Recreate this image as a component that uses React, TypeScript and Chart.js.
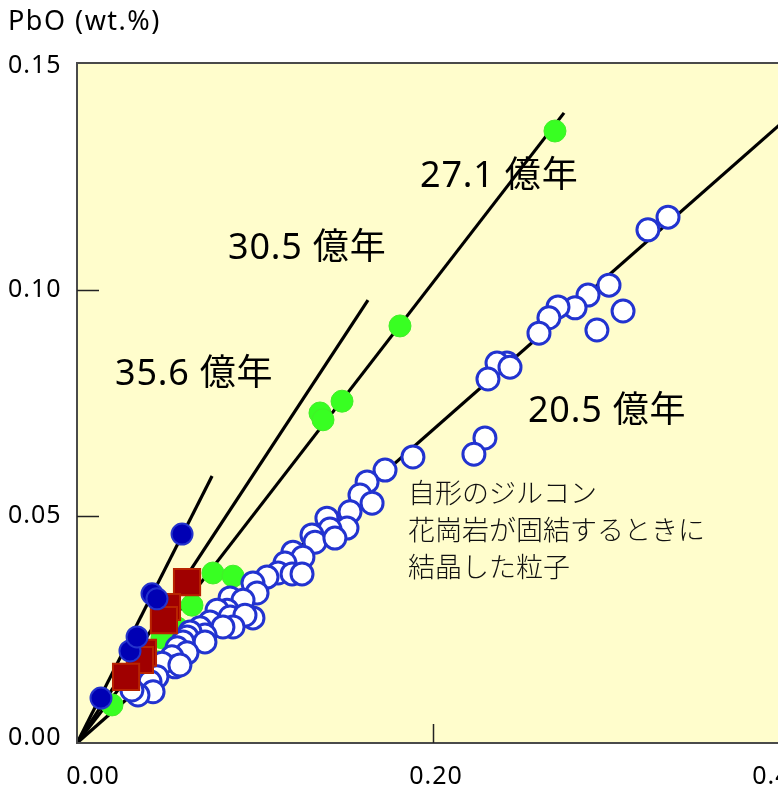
import React, { useEffect, useRef } from "react";
import { Chart, registerables } from "chart.js";

Chart.register(...registerables);

// ---- axis ticks ----
const xTicks = [0, 0.2, 0.4];
const yTicks = [0, 0.05, 0.1, 0.15];
const yAxisTitle = "PbO (wt.%)";

// ---- isochron lines (from origin to end point) ----
const isochronAges = ["35.6 億年", "30.5 億年", "27.1 億年", "20.5 億年"];
const isochronEndX = [0.076, 0.1637, 0.274, 0.4];
const isochronEndY = [0.0589, 0.0977, 0.139, 0.138];
// label anchor (left, vertical middle) in data units
const isochronLabelX = [0.0214, 0.085, 0.193, 0.2537];
const isochronLabelY = [0.0812, 0.109, 0.1249, 0.073];

// ---- annotation ----
const noteLines = ["自形のジルコン", "花崗岩が固結するときに", "結晶した粒子"];
const noteX = 0.1862;
const noteY = [0.0551, 0.047, 0.0388];

// ---- data series [x, PbO y] ----
const blueFilled: number[][] = [
  [0.0135, 0.0099], [0.0298, 0.0203], [0.0338, 0.0234], [0.0422, 0.0329],
  [0.045, 0.0318], [0.0591, 0.0461],
];

const redSquares: number[][] = [
  [0.0619, 0.0355], [0.0506, 0.03], [0.0489, 0.0271], [0.0371, 0.0199],
  [0.0354, 0.0183], [0.0276, 0.0146],
];

const greenFilled: number[][] = [
  [0.0765, 0.0375], [0.0878, 0.0368], [0.0647, 0.0304], [0.0563, 0.0254],
  [0.0478, 0.0232], [0.0456, 0.0179], [0.0197, 0.0084], [0.1367, 0.0728],
  [0.1384, 0.0713], [0.1491, 0.0754], [0.1817, 0.092], [0.2689, 0.135],
];

const whiteOpen: number[][] = [
  [0.3325, 0.116], [0.3212, 0.1132], [0.2993, 0.101], [0.2875, 0.0988],
  [0.2802, 0.096], [0.2706, 0.0962], [0.2655, 0.0938], [0.2599, 0.0904],
  [0.3072, 0.0953], [0.2925, 0.0911], [0.2419, 0.0838], [0.2363, 0.0838],
  [0.2436, 0.0829], [0.2312, 0.0803], [0.2295, 0.0673], [0.2233, 0.0637],
  [0.189, 0.0631], [0.1733, 0.0602], [0.1632, 0.0576], [0.1592, 0.0547],
  [0.166, 0.0529], [0.1536, 0.051], [0.1406, 0.0496], [0.1519, 0.0474],
  [0.1423, 0.0472], [0.1322, 0.0459], [0.1339, 0.0443], [0.1451, 0.0452],
  [0.1215, 0.0421], [0.1271, 0.041], [0.117, 0.0397], [0.1131, 0.0375],
  [0.121, 0.0373], [0.1266, 0.0373], [0.1069, 0.0366], [0.099, 0.0353],
  [0.1013, 0.0331], [0.0861, 0.032], [0.0934, 0.0315], [0.0844, 0.0293],
  [0.0788, 0.0293], [0.0861, 0.0278], [0.099, 0.0276], [0.0945, 0.0282],
  [0.0748, 0.0267], [0.0878, 0.0256], [0.0821, 0.0256], [0.0692, 0.0254],
  [0.072, 0.0238], [0.0636, 0.0245], [0.0619, 0.0234], [0.072, 0.0223],
  [0.0596, 0.0223], [0.0563, 0.021], [0.0619, 0.0199], [0.0534, 0.019],
  [0.0551, 0.0168], [0.0478, 0.0176], [0.045, 0.0146], [0.0411, 0.0135],
  [0.0428, 0.0113], [0.0343, 0.0106], [0.0309, 0.0117], [0.0579, 0.0172],
];

const toPts = (arr: number[][]) => arr.map(([x, y]) => ({ x, y }));

const SANS = '"Noto Sans", "Noto Sans CJK JP", sans-serif';

const decorPlugin = {
  id: "decor",
  beforeDraw(chart: any) {
    const { ctx, chartArea: a } = chart;
    ctx.save();
    ctx.fillStyle = "#FFFDCC";
    ctx.fillRect(a.left, a.top, a.right - a.left, a.bottom - a.top);
    ctx.restore();
  },
  afterDraw(chart: any) {
    const { ctx, chartArea: a, scales } = chart;
    const xs = scales.x;
    const ys = scales.y;
    ctx.save();
    // frame
    ctx.strokeStyle = "#4a4a4a";
    ctx.lineWidth = 2;
    ctx.strokeRect(a.left, a.top, a.right - a.left, a.bottom - a.top);
    // inner ticks
    ctx.strokeStyle = "#222";
    ctx.lineWidth = 1.5;
    const xMax = xTicks[xTicks.length - 1];
    const yMax = yTicks[yTicks.length - 1];
    for (const v of xTicks) {
      if (v <= 0 || v >= xMax) continue;
      const px = Math.round(xs.getPixelForValue(v)) + 0.5;
      ctx.beginPath();
      ctx.moveTo(px, a.bottom);
      ctx.lineTo(px, a.bottom - 19);
      ctx.stroke();
    }
    for (const v of yTicks) {
      if (v <= 0 || v >= yMax) continue;
      const py = Math.round(ys.getPixelForValue(v)) + 0.5;
      ctx.beginPath();
      ctx.moveTo(a.left, py);
      ctx.lineTo(a.left + 22, py);
      ctx.stroke();
    }
    // tick labels
    ctx.fillStyle = "#000";
    ctx.font = `25px ${SANS}`;
    ctx.letterSpacing = "1px";
    ctx.textBaseline = "middle";
    ctx.textAlign = "left";
    for (const v of yTicks) {
      let py = ys.getPixelForValue(v);
      py = Math.min(Math.max(py, a.top + 3), a.bottom - 5);
      ctx.fillText(v.toFixed(2), 8, py);
    }
    ctx.textAlign = "center";
    for (const v of xTicks) {
      const px = xs.getPixelForValue(v) + 16 - 62.5 * v;
      ctx.fillText(v.toFixed(2), px, a.bottom + 34);
    }
    // axis title
    ctx.textAlign = "left";
    ctx.font = `27px ${SANS}`;
    ctx.letterSpacing = "1.5px";
    ctx.fillText(yAxisTitle, 8, 22);
    // isochron labels
    ctx.font = `36px ${SANS}`;
    ctx.letterSpacing = "0.8px";
    isochronAges.forEach((t, i) => {
      ctx.fillText(t, xs.getPixelForValue(isochronLabelX[i]), ys.getPixelForValue(isochronLabelY[i]));
    });
    // annotation
    ctx.fillStyle = "#111";
    ctx.letterSpacing = "0px";
    ctx.font = `300 27px "Noto Sans CJK JP", sans-serif`;
    noteLines.forEach((t, i) => {
      ctx.fillText(t, xs.getPixelForValue(noteX), ys.getPixelForValue(noteY[i]));
    });
    ctx.restore();
  },
};

export default function App() {
  const ref = useRef<HTMLCanvasElement | null>(null);
  useEffect(() => {
    if (!ref.current) return;
    const lineSets = isochronAges.map((age, i) => ({
      label: age,
      type: "scatter" as const,
      data: [{ x: 0, y: 0 }, { x: isochronEndX[i], y: isochronEndY[i] }],
      showLine: true,
      borderColor: "#000",
      borderWidth: 3.2,
      pointRadius: 0,
      order: 10 + i,
    }));
    const chart = new Chart(ref.current, {
      type: "scatter",
      data: {
        datasets: [
          {
            label: "blue",
            data: toPts(blueFilled),
            backgroundColor: "#0000B4",
            borderColor: "#2433CC",
            borderWidth: 2,
            pointRadius: 10.5,
            order: 0,
          },
          {
            label: "red",
            data: toPts(redSquares),
            pointStyle: "rect",
            backgroundColor: "#A00000",
            borderColor: "#B82400",
            borderWidth: 2,
            pointRadius: 18.5,
            order: 1,
          },
          {
            label: "white",
            data: toPts(whiteOpen),
            backgroundColor: "#FFFFFF",
            borderColor: "#2233D0",
            borderWidth: 3,
            pointRadius: 11,
            order: 2,
          },
          {
            label: "green",
            data: toPts(greenFilled),
            backgroundColor: "#38FF22",
            borderColor: "#44EE2A",
            borderWidth: 1,
            pointRadius: 11,
            order: 3,
          },
          ...lineSets,
        ] as any,
      },
      options: {
        animation: false,
        responsive: false,
        devicePixelRatio: 1,
        events: [],
        layout: { padding: { left: 77, top: 63, right: 42, bottom: 46 } },
        plugins: { legend: { display: false }, tooltip: { enabled: false } },
        scales: {
          x: { type: "linear", min: 0, max: 0.4, display: false },
          y: { type: "linear", min: 0, max: 0.15, display: false },
        },
      },
      plugins: [decorPlugin],
    });
    return () => chart.destroy();
  }, []);
  return (
    <div
      style={{
        position: "fixed",
        left: 0,
        top: 0,
        width: 778,
        height: 789,
        overflow: "hidden",
        background: "#fff",
      }}
    >
      <canvas ref={ref} width={830} height={789} style={{ width: 830, height: 789, display: "block" }} />
    </div>
  );
}
